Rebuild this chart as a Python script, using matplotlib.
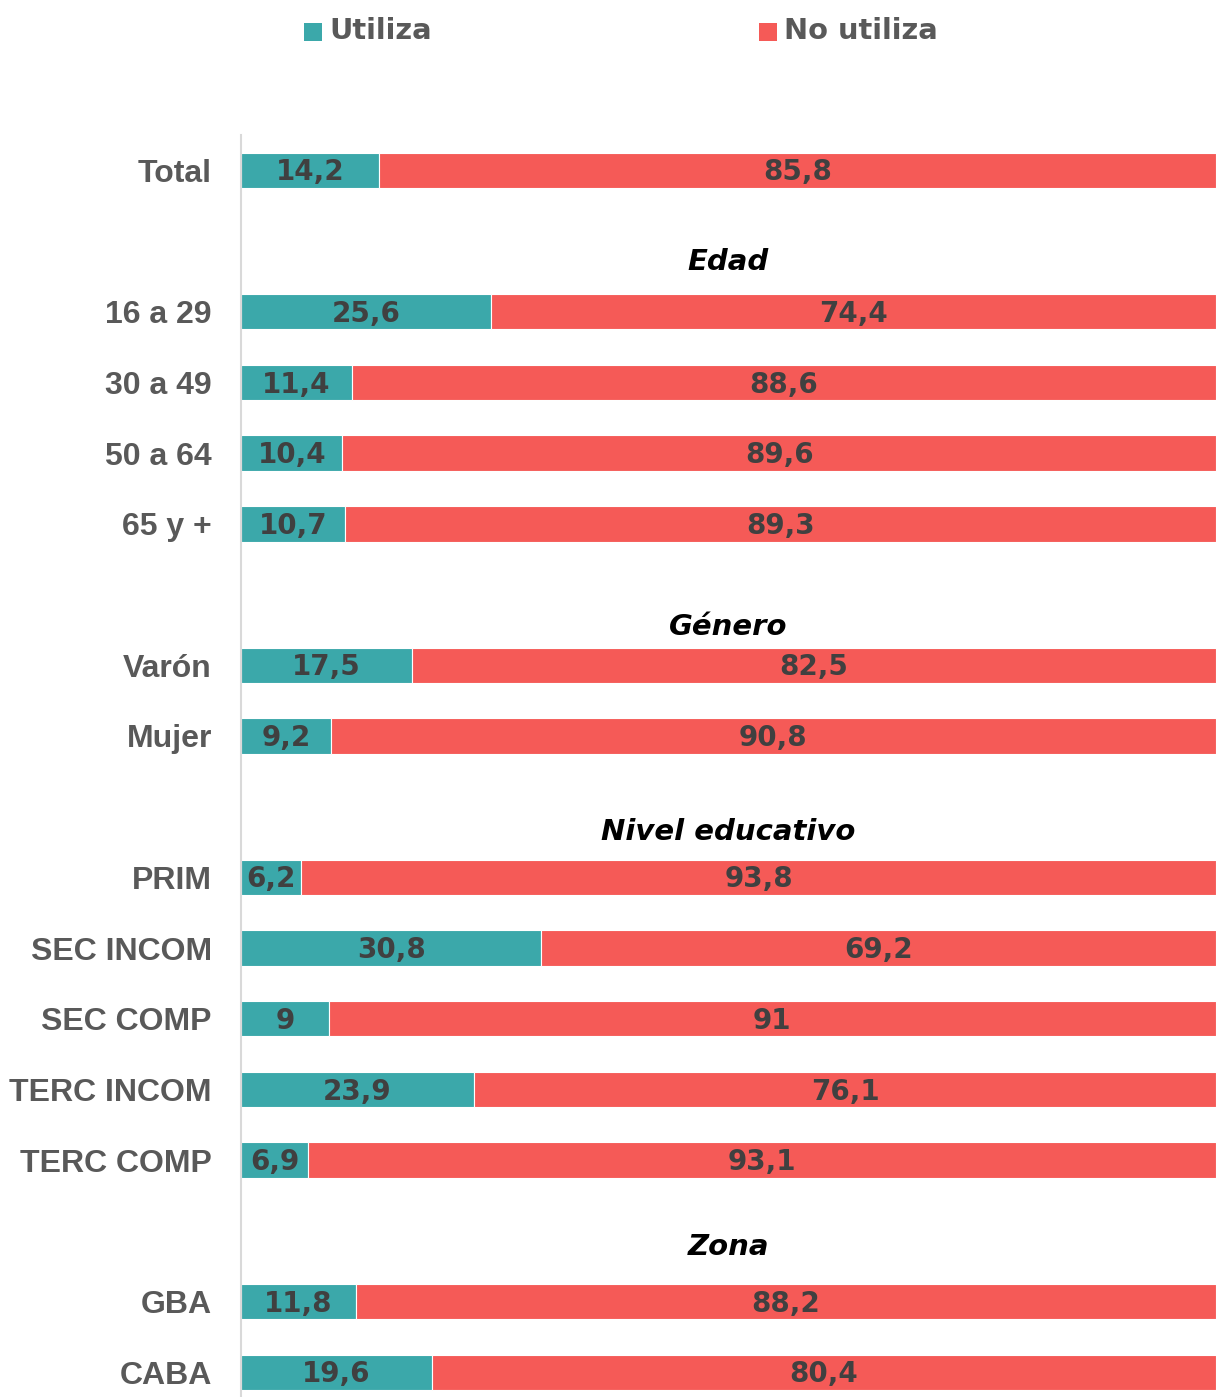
import matplotlib
matplotlib.use('Agg')
import matplotlib.pyplot as plt
from matplotlib.patches import Rectangle

# ============ 数据 ============
CATEGORIAS = ['Total', '16 a 29', '30 a 49', '50 a 64', '65 y +', 'Varón', 'Mujer',
              'PRIM', 'SEC INCOM', 'SEC COMP', 'TERC INCOM', 'TERC COMP', 'GBA', 'CABA']
UTILIZA = [14.2, 25.6, 11.4, 10.4, 10.7, 17.5, 9.2, 6.2, 30.8, 9, 23.9, 6.9, 11.8, 19.6]
NO_UTILIZA = [85.8, 74.4, 88.6, 89.6, 89.3, 82.5, 90.8, 93.8, 69.2, 91, 76.1, 93.1, 88.2, 80.4]
# fila de cada barra (con huecos para los títulos de sección)
FILAS = [0, 2, 3, 4, 5, 7, 8, 10, 11, 12, 13, 14, 16, 17]
SECCIONES = ['Edad', 'Género', 'Nivel educativo', 'Zona']
SECCION_Y = [1.3, 6.46, 9.36, 15.23]

TEAL = '#3BA8AA'
RED = '#F55A57'
LABEL_COLOR = '#595959'
VALUE_COLOR = '#404040'

W, H = 1216, 1397
fig = plt.figure(figsize=(W / 100, H / 100), dpi=100)
ax = fig.add_axes([241 / W, 0, 1 - 241 / W, 1 - 135 / H])

ax.barh(FILAS, UTILIZA, height=0.5, color=TEAL, edgecolor='white', linewidth=0.8)
ax.barh(FILAS, NO_UTILIZA, left=UTILIZA, height=0.5, color=RED, edgecolor='white', linewidth=0.8)

def fmt(v):
    return f'{v:g}'.replace('.', ',')

for y, u, n in zip(FILAS, UTILIZA, NO_UTILIZA):
    ax.text(u / 2, y + 0.03, fmt(u), ha='center', va='center', fontsize=20,
            fontweight='bold', color=VALUE_COLOR)
    ax.text(u + n / 2, y + 0.03, fmt(n), ha='center', va='center', fontsize=20,
            fontweight='bold', color=VALUE_COLOR)

for s, y in zip(SECCIONES, SECCION_Y):
    ax.text(50, y, s, ha='center', va='center', fontsize=21, fontweight='bold',
            fontstyle='italic', color='black')

ax.set_xlim(0, 100)
ax.set_ylim(17.35, -0.5)
ax.set_yticks(FILAS)
ax.set_yticklabels(CATEGORIAS, fontsize=23, fontweight='bold', color=LABEL_COLOR,
                   family='Liberation Sans')
ax.tick_params(axis='y', length=0, pad=21)
ax.set_xticks([])
for side in ['top', 'right', 'bottom']:
    ax.spines[side].set_visible(False)
ax.spines['left'].set_color('#D9D9D9')
ax.spines['left'].set_linewidth(1.5)

# leyenda
for x0, color, label in [(304, TEAL, 'Utiliza'), (759, RED, 'No utiliza')]:
    fig.patches.append(Rectangle((x0 / W, 1 - 41 / H), 18 / W, 18 / H,
                                 transform=fig.transFigure, facecolor=color,
                                 edgecolor='none'))
    fig.text((x0 + 25) / W, 1 - 31 / H, label, ha='left', va='center', fontsize=20.8,
             fontweight='bold', color=LABEL_COLOR)

plt.savefig('out.png', dpi=100, facecolor='white')
